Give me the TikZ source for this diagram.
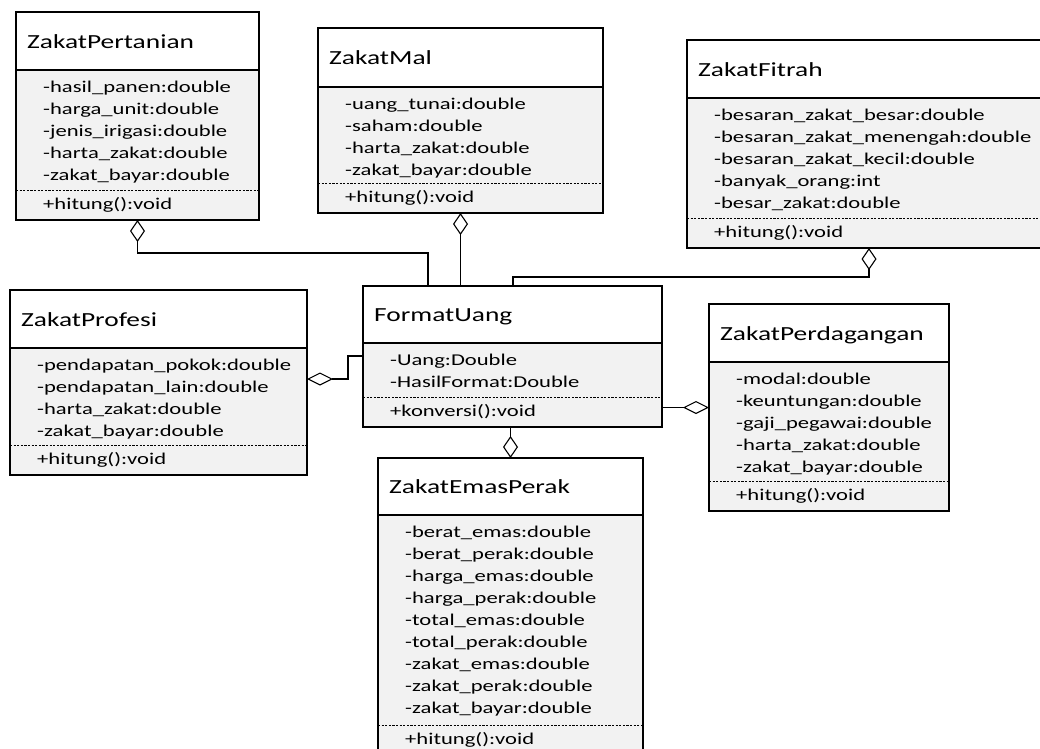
\documentclass[tikz,border=0pt]{standalone}
\usepackage{fontspec}
\setmainfont[FakeStretch=1.37]{Carlito}
\usetikzlibrary{arrows.meta,fit}
\definecolor{boxgray}{RGB}{242,242,242}
\tikzset{
  ln/.style={line width=1.1pt},
  dsh/.style={line width=0.7pt, dash pattern=on 2.2pt off 1.4pt},
  frame/.style={draw, line width=1.1pt, inner sep=0pt, outer sep=0pt},
  ttl/.style={anchor=base west, inner sep=0pt, font=\fontsize{20}{24}\selectfont},
  attr/.style={anchor=base west, inner sep=0pt, font=\fontsize{16.5}{22}\selectfont},
  agg/.style={line width=1.1pt, -{Diamond[open, length=22pt, width=15pt]}},
  aggh/.style={line width=1.1pt, -{Diamond[open, length=26pt, width=13pt]}},
}
\newcommand{\attrlist}[1]{\begin{tabular}[t]{@{}l@{}}#1\end{tabular}}
% #1 name, #2 left, #3 top, #4 right, #5 header bottom, #6 dashed y, #7 title, #8 attributes, #9 method
\newcommand{\umlclass}[9]{%
  \fill[boxgray] (#2,#5) rectangle (#4,#6+30);
  \draw[ln] (#2,#5) -- (#4,#5);
  \draw[dsh] (#2,#6) -- (#4,#6);
  \coordinate (#1-nw) at (#2,#3);
  \coordinate (#1-se) at (#4,#6+30);
  \node[frame, fit=(#1-nw)(#1-se)] (#1) {};
  \node[ttl] (#1-t) at (#2+11,{(#3+#5)/2+7}) {#7};
  \node[attr] (#1-a) at (#2+27,#5+22) {\attrlist{#8}};
  \node[attr] (#1-m) at (#2+27,#6+19) {#9};
}
\begin{document}
\begin{tikzpicture}[x=1pt,y=-1pt]
\fill[white] (0,0) rectangle (1040,748);
\useasboundingbox (0,0) rectangle (1040,748);

\umlclass{pert}{16}{12}{259}{70}{190}{ZakatPertanian}%
  {-hasil\_panen:double\\-harga\_unit:double\\-jenis\_irigasi:double\\-harta\_zakat:double\\-zakat\_bayar:double}%
  {+hitung():void}
\umlclass{mal}{318}{28}{603}{87}{183}{ZakatMal}%
  {-uang\_tunai:double\\-saham:double\\-harta\_zakat:double\\-zakat\_bayar:double}%
  {+hitung():void}
\umlclass{fit}{687}{40}{1051}{98}{218}{ZakatFitrah}%
  {-besaran\_zakat\_besar:double\\-besaran\_zakat\_menengah:double\\-besaran\_zakat\_kecil:double\\-banyak\_orang:int\\-besar\_zakat:double}%
  {+hitung():void}
\umlclass{prof}{10}{290}{307}{348}{445}{ZakatProfesi}%
  {-pendapatan\_pokok:double\\-pendapatan\_lain:double\\-harta\_zakat:double\\-zakat\_bayar:double}%
  {+hitung():void}
\umlclass{fu}{363}{286}{662}{343}{397}{FormatUang}%
  {-Uang:Double\\-HasilFormat:Double}%
  {+konversi():void}
\umlclass{perd}{709}{304}{949}{362}{481}{ZakatPerdagangan}%
  {-modal:double\\-keuntungan:double\\-gaji\_pegawai:double\\-harta\_zakat:double\\-zakat\_bayar:double}%
  {+hitung():void}
\umlclass{emas}{378}{458}{643}{515}{725}{ZakatEmasPerak}%
  {-berat\_emas:double\\-berat\_perak:double\\-harga\_emas:double\\-harga\_perak:double\\-total\_emas:double\\-total\_perak:double\\-zakat\_emas:double\\-zakat\_perak:double\\-zakat\_bayar:double}%
  {+hitung():void}

\coordinate (j1) at (428,253);
\coordinate (j3) at (513,277);
\coordinate (j4) at (348,356);
\coordinate (j5) at (348,379);

\draw[agg] (fu.north -| j1) -- (j1) -| (pert.south);
\draw[agg] (fu.north -| mal.south) -- (mal.south);
\draw[agg] (fu.north -| j3) -- (j3) -| (fit.south);
\draw[aggh] (fu.west |- j4) -- (j4) -- (j5) -- (prof.east |- j5);
\draw[aggh] (fu.east |- perd.west) -- (perd.west);
\draw[agg] (fu.south -| emas.north) -- (emas.north);
\end{tikzpicture}
\end{document}
